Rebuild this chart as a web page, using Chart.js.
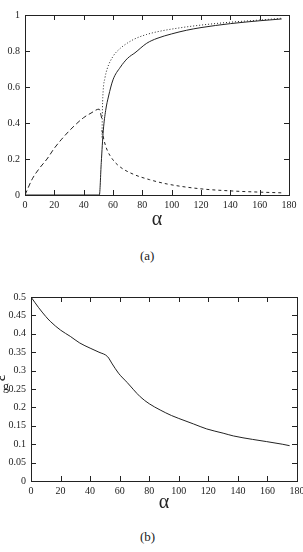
<!DOCTYPE html>
<html>
<head>
<meta charset="utf-8">
<script src="https://cdn.jsdelivr.net/npm/chart.js@4"></script>
<style>
  html, body { margin: 0; padding: 0; background: #fff; width: 303px; height: 552px; overflow: hidden; position: relative; }
  canvas { position: absolute; left: 0; }
  #ca { top: 0; }
  #cb { top: 280px; }
  .cap { position: absolute; font-family: "Liberation Serif", serif; font-size: 13px; color: #222; }
  .eps { position: absolute; font-family: "Liberation Serif", serif; color: #222; }
</style>
</head>
<body>
<canvas id="ca" width="303" height="232"></canvas>
<div class="cap" style="left:140px; top:248px;">(a)</div>
<canvas id="cb" width="312" height="235"></canvas>
<div class="cap" style="left:140px; top:529px;">(b)</div>
<div class="eps" style="left:-3px; top:369px; font-size:16px; transform: rotate(-90deg);">ε</div>
<div class="eps" style="left:3px; top:379px; font-size:12px;">g</div>
<script>
// panel (a)
const solidX = [0, 50.7, 52, 53.4, 55, 57, 60, 65, 70, 75, 83, 90, 100, 110, 120, 140, 160, 175];
const solidY = [0, 0, 0.18, 0.36, 0.47, 0.55, 0.64, 0.71, 0.76, 0.79, 0.843, 0.87, 0.895, 0.915, 0.93, 0.952, 0.968, 0.978];

const dottedX = [52.5, 52.8, 53.3, 54.5, 56, 60, 65, 70, 75, 83, 92, 105, 120, 140, 160, 175];
const dottedY = [0.32, 0.48, 0.58, 0.65, 0.70, 0.77, 0.815, 0.845, 0.868, 0.892, 0.91, 0.928, 0.944, 0.96, 0.972, 0.982];

const riseX = [0, 5, 10, 15, 20, 25, 30, 35, 40, 45, 50.5, 52.5];
const riseY = [0, 0.09, 0.15, 0.2, 0.26, 0.31, 0.355, 0.395, 0.43, 0.455, 0.477, 0.42];

const decayX = [52.5, 54, 56, 60, 65, 74, 85, 97, 119, 142, 160, 175];
const decayY = [0.36, 0.30, 0.25, 0.195, 0.155, 0.115, 0.085, 0.061, 0.035, 0.022, 0.016, 0.012];

// panel (b)
const epsX = [0, 5, 10, 13, 20, 26.6, 33, 40, 46, 51.8, 55, 59.2, 65, 73.9, 80, 87.4, 95, 100, 110, 118.9, 130, 136.9, 150, 159.5, 170, 175];
const epsY = [0.5, 0.472, 0.447, 0.434, 0.41, 0.393, 0.375, 0.361, 0.35, 0.338, 0.318, 0.293, 0.268, 0.229, 0.21, 0.193, 0.178, 0.17, 0.155, 0.1415, 0.13, 0.1225, 0.113, 0.107, 0.1, 0.096];

const xTicks = [0, 20, 40, 60, 80, 100, 120, 140, 160, 180];
const yTicksA = [0, 0.2, 0.4, 0.6, 0.8, 1];
const yTicksB = [0, 0.05, 0.1, 0.15, 0.2, 0.25, 0.3, 0.35, 0.4, 0.45, 0.5];

const pts = (xs, ys) => xs.map((x, i) => ({ x: x, y: ys[i] }));
const serif = "'Liberation Serif', serif";
const ink = "#222";

// frame + inward ticks on all four sides
const framePlugin = {
  id: "frame",
  afterDraw(chart) {
    const { ctx, chartArea: a, scales } = chart;
    const len = 5;
    ctx.save();
    ctx.strokeStyle = ink;
    ctx.lineWidth = 1;
    ctx.strokeRect(Math.round(a.left) + 0.5, Math.round(a.top) + 0.5, Math.round(a.right - a.left), Math.round(a.bottom - a.top));
    ctx.beginPath();
    scales.x.ticks.forEach((t) => {
      const px = Math.round(scales.x.getPixelForValue(t.value)) + 0.5;
      ctx.moveTo(px, a.bottom); ctx.lineTo(px, a.bottom - len);
      ctx.moveTo(px, a.top); ctx.lineTo(px, a.top + len);
    });
    scales.y.ticks.forEach((t) => {
      const py = Math.round(scales.y.getPixelForValue(t.value)) + 0.5;
      ctx.moveTo(a.left, py); ctx.lineTo(a.left + len, py);
      ctx.moveTo(a.right, py); ctx.lineTo(a.right - len, py);
    });
    ctx.stroke();
    ctx.restore();
  },
};

const line = (data, dash) => ({
  data: data,
  showLine: true,
  borderColor: ink,
  borderWidth: 1,
  borderDash: dash,
  pointRadius: 0,
  cubicInterpolationMode: "monotone",
  fill: false,
});

const makeOptions = (yMax, yTicks, yWidth, xHeight, padTop, padRight, titlePad) => ({
  responsive: false,
  animation: false,
  layout: { padding: { top: padTop, right: padRight, left: 0, bottom: 0 } },
  plugins: { legend: { display: false }, tooltip: { enabled: false } },
  scales: {
    x: {
      type: "linear",
      min: 0,
      max: 180,
      grid: { display: false, drawTicks: false },
      border: { display: false },
      afterBuildTicks: (s) => { s.ticks = xTicks.map((v) => ({ value: v })); },
      afterFit: (s) => { s.height = xHeight; s.paddingLeft = 0; s.paddingRight = 0; },
      ticks: { color: ink, padding: 4, maxRotation: 0, autoSkip: false, font: { family: serif, size: 10 }, callback: (v) => String(v) },
      title: { display: true, text: "α", color: ink, padding: { top: 0, bottom: titlePad }, font: { family: serif, size: 20 } },
    },
    y: {
      type: "linear",
      min: 0,
      max: yMax,
      grid: { display: false, drawTicks: false },
      border: { display: false },
      afterBuildTicks: (s) => { s.ticks = yTicks.map((v) => ({ value: v })); },
      afterFit: (s) => { s.width = yWidth; s.paddingTop = 0; s.paddingBottom = 0; },
      ticks: { color: ink, padding: 5, autoSkip: false, font: { family: serif, size: 10 }, callback: (v) => String(v) },
    },
  },
});

new Chart(document.getElementById("ca"), {
  type: "scatter",
  data: {
    datasets: [
      line(pts(solidX, solidY), []),
      line(pts(dottedX, dottedY), [1, 2]),
      line(pts(riseX, riseY), [5, 3]),
      line(pts(decayX, decayY), [3, 3]),
    ],
  },
  options: makeOptions(1, yTicksA, 25, 37, 15, 14, 0),
  plugins: [framePlugin],
});

new Chart(document.getElementById("cb"), {
  type: "scatter",
  data: {
    datasets: [line(pts(epsX, epsY), [])],
  },
  options: makeOptions(0.5, yTicksB, 31, 34, 17, 15, 0),
  plugins: [framePlugin],
});
</script>
</body>
</html>
